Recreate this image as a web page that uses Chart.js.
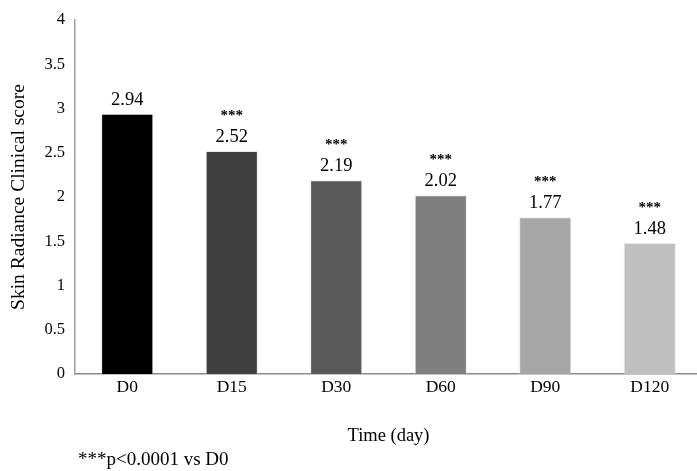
<!DOCTYPE html>
<html>
<head>
<meta charset="utf-8">
<script src="https://cdn.jsdelivr.net/npm/chart.js@4/dist/chart.umd.min.js"></script>
<style>
  html, body { margin: 0; padding: 0; background: #fff; overflow: hidden; }
  #wrap { width: 697px; height: 471px; overflow: hidden; position: relative; }
  canvas { display: block; }
</style>
</head>
<body>
<div id="wrap"><canvas id="c" width="705" height="471"></canvas></div>
<script>
const categories = ["D0", "D15", "D30", "D60", "D90", "D120"];
const scores = [2.94, 2.52, 2.19, 2.02, 1.77, 1.48];
const significance = ["", "***", "***", "***", "***", "***"];
const barColors = ["#000000", "#404040", "#595959", "#7f7f7f", "#a6a6a6", "#bfbfbf"];
const yTickValues = [0, 0.5, 1, 1.5, 2, 2.5, 3, 3.5, 4];
const footnote = "***p<0.0001 vs D0";

const SERIF = "'Liberation Serif', 'Times New Roman', serif";

const labelPlugin = {
  id: 'barLabels',
  afterDatasetsDraw(chart) {
    const ctx = chart.ctx;
    const meta = chart.getDatasetMeta(0);
    ctx.save();
    ctx.fillStyle = '#000';
    ctx.textAlign = 'center';
    meta.data.forEach((bar, i) => {
      ctx.font = "18.5px " + SERIF;
      ctx.textBaseline = 'alphabetic';
      ctx.fillText(scores[i].toFixed(2), bar.x, bar.y - 9);
      if (significance[i]) {
        ctx.font = "bold 15px " + SERIF;
        ctx.fillText(significance[i], bar.x, bar.y - 31);
      }
    });
    ctx.font = "19px " + SERIF;
    ctx.textAlign = 'left';
    ctx.textBaseline = 'middle';
    ctx.fillText(footnote, 78, 460);
    ctx.restore();
  }
};

new Chart(document.getElementById('c'), {
  type: 'bar',
  data: {
    labels: categories,
    datasets: [{
      data: scores,
      backgroundColor: barColors,
      borderColor: 'rgba(220,220,220,0.6)',
      borderWidth: 1,
      barPercentage: 0.5,
      categoryPercentage: 1.0
    }]
  },
  options: {
    responsive: false,
    animation: false,
    devicePixelRatio: 1,
    layout: { padding: { top: 20, right: 3, left: 0, bottom: 0 } },
    plugins: {
      legend: { display: false },
      tooltip: { enabled: false }
    },
    scales: {
      x: {
        grid: { display: false, drawTicks: false },
        border: { display: true, color: '#8a8a8a', width: 1.5 },
        ticks: { color: '#000', font: { family: SERIF, size: 17.5 }, padding: 3 },
        title: {
          display: true, text: 'Time (day)', color: '#000',
          font: { family: SERIF, size: 18.5 },
          padding: { top: 0, bottom: 24 }
        },
        afterFit(scale) { scale.height = 97; }
      },
      y: {
        min: 0, max: 4,
        grid: { display: false, drawTicks: false },
        border: { display: true, color: '#a0a0a0', width: 1.5 },
        afterBuildTicks(scale) { scale.ticks = yTickValues.map(v => ({ value: v })); },
        ticks: {
          color: '#000', font: { family: SERIF, size: 16.5 }, padding: 10,
          callback: (v) => String(v)
        },
        title: {
          display: true, text: 'Skin Radiance Clinical score', color: '#000',
          font: { family: SERIF, size: 19.5 },
          padding: { top: 7, bottom: 0 }
        },
        afterFit(scale) { scale.width = 75; }
      }
    }
  },
  plugins: [labelPlugin]
});
</script>
</body>
</html>
